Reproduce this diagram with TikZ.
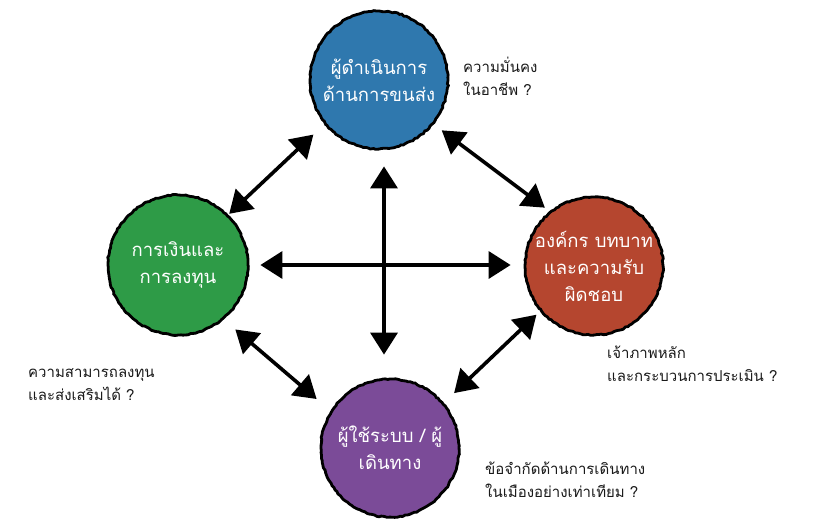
\documentclass[tikz,border=0pt]{standalone}
\usepackage{fontspec}
\setmainfont{Liberation Sans}
\newfontfamily\thaifont[Script=Thai]{Loma}
\usetikzlibrary{arrows.meta,decorations.pathmorphing,calc}

\definecolor{xanhduong}{RGB}{47,120,174}
\definecolor{xanhla}{RGB}{46,155,71}
\definecolor{dogach}{RGB}{181,70,47}
\definecolor{tim}{RGB}{123,75,152}

\begin{document}
\begin{tikzpicture}[x=1pt, y=-1pt, >={Triangle[length=22pt, width=27pt]},
    vong/.style={circle, minimum size=138pt, inner sep=0pt, draw=black,
        line width=2.8pt, text=white, align=center,
        font=\thaifont\fontsize{18.5}{27}\selectfont,
        decorate, decoration={random steps, segment length=2.5pt, amplitude=0.6pt}},
    luk/.style={<->, line width=3.6pt, black},
    chu/.style={anchor=west, align=left, inner sep=0pt, text=black!90,
        font=\thaifont\fontsize{15}{23}\selectfont}]

    \pgfmathsetseed{7}
    \useasboundingbox (0,0) rectangle (820,528);

    % 1. Bốn vòng tròn
    \node[vong, fill=xanhduong] (vanhanh) at (379,80) {ผู้ดำเนินการ\\ด้านการขนส่ง};
    \node[vong, fill=xanhla, minimum size=140pt] (taichinh) at (178,265) {การเงินและ\\การลงทุน};
    \node[vong, fill=dogach] (tochuc) at (594,266) {องค์กร บทบาท\\และความรับ\\ผิดชอบ};
    \node[vong, fill=tim] (nguoidung) at (390,448) {ผู้ใช้ระบบ / ผู้\\เดินทาง};

    % 2. Mũi tên hai đầu giữa các vòng
    \draw[luk, shorten <=1pt, shorten >=15pt] (taichinh.45) -- (vanhanh.219);
    \draw[luk, shorten <=10pt, shorten >=6pt] (vanhanh.-39) -- (tochuc.129);
    \draw[luk, shorten <=15pt, shorten >=18pt] (taichinh.-50) -- (nguoidung.148);
    \draw[luk, shorten <=5pt, shorten >=14pt] (tochuc.220) -- (nguoidung.40);

    % 3. Chữ thập ở giữa
    \coordinate (tam) at (384,265);
    \draw[luk, shorten <=16pt, shorten >=23pt] (tam |- vanhanh.south) -- (tam |- nguoidung.north);
    \draw[luk, shorten <=11pt, shorten >=13pt] (taichinh.east |- tam) -- (tochuc.west |- tam);

    % 4. Câu hỏi bên cạnh
    \node[chu] (hoi1) at (463,76) {ความมั่นคง\\ในอาชีพ ?};
    \node[chu] (hoi2) at (28,385) {ความสามารถลงทุน\\และส่งเสริมได้ ?};
    \node[chu] (hoi3) at (607,364) {เจ้าภาพหลัก\\และกระบวนการประเมิน ?};
    \node[chu] (hoi4) at (485,480) {ข้อจำกัดด้านการเดินทาง\\ในเมืองอย่างเท่าเทียม ?};

\end{tikzpicture}
\end{document}
